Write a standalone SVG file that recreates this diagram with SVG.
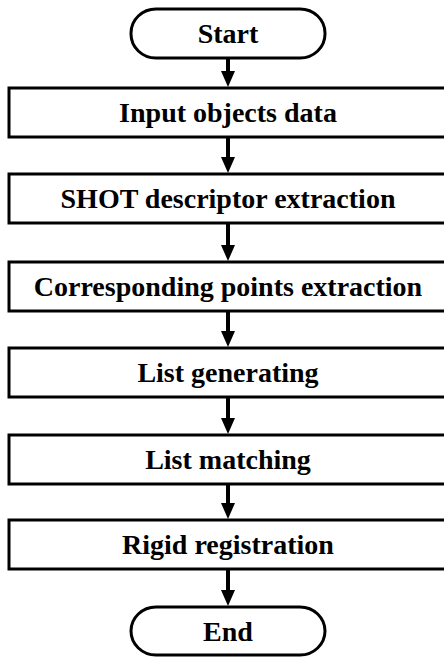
<svg xmlns="http://www.w3.org/2000/svg" width="444" height="657" viewBox="0 0 444 657">
<style>
.box{fill:#fff;stroke:#000;stroke-width:3}
.lbl{font-family:"Liberation Serif","Times New Roman",serif;font-weight:bold;font-size:28px;fill:#000;text-anchor:middle}
.conn{stroke:#000;stroke-width:4;fill:none}
</style>
<defs>
<marker id="ah" markerUnits="userSpaceOnUse" viewBox="0 0 16 14" markerWidth="16" markerHeight="14" refX="10" refY="7" orient="auto">
<path d="M0,0 L16,7 L0,14 z" fill="#000"/>
</marker>
</defs>
<rect width="444" height="657" fill="#fff"/>
<g id="connectors">
<line class="conn" x1="228" y1="58" x2="228" y2="81" marker-end="url(#ah)"/>
<line class="conn" x1="228" y1="137" x2="228" y2="167" marker-end="url(#ah)"/>
<line class="conn" x1="228" y1="223" x2="228" y2="255" marker-end="url(#ah)"/>
<line class="conn" x1="228" y1="311" x2="228" y2="341" marker-end="url(#ah)"/>
<line class="conn" x1="228" y1="397" x2="228" y2="428" marker-end="url(#ah)"/>
<line class="conn" x1="228" y1="484" x2="228" y2="513" marker-end="url(#ah)"/>
<line class="conn" x1="228" y1="569" x2="228" y2="600" marker-end="url(#ah)"/>
</g>
<g id="start">
<rect class="box" x="131" y="9" width="194" height="49" rx="25" ry="24"/>
<text class="lbl" x="228" y="43">Start</text>
</g>
<g id="input">
<rect class="box" x="9" y="88" width="445" height="49"/>
<text class="lbl" x="228" y="122">Input objects data</text>
</g>
<g id="shot">
<rect class="box" x="9" y="174" width="445" height="49"/>
<text class="lbl" x="228" y="208">SHOT descriptor extraction</text>
</g>
<g id="corr">
<rect class="box" x="9" y="262" width="445" height="49"/>
<text class="lbl" x="228" y="296">Corresponding points extraction</text>
</g>
<g id="listgen">
<rect class="box" x="9" y="348" width="445" height="49"/>
<text class="lbl" x="228" y="382">List generating</text>
</g>
<g id="listmatch">
<rect class="box" x="9" y="435" width="445" height="49"/>
<text class="lbl" x="228" y="469">List matching</text>
</g>
<g id="rigid">
<rect class="box" x="9" y="520" width="445" height="49"/>
<text class="lbl" x="228" y="554">Rigid registration</text>
</g>
<g id="end">
<rect class="box" x="131" y="607" width="194" height="48" rx="25" ry="24"/>
<text class="lbl" x="228" y="641">End</text>
</g>
</svg>
